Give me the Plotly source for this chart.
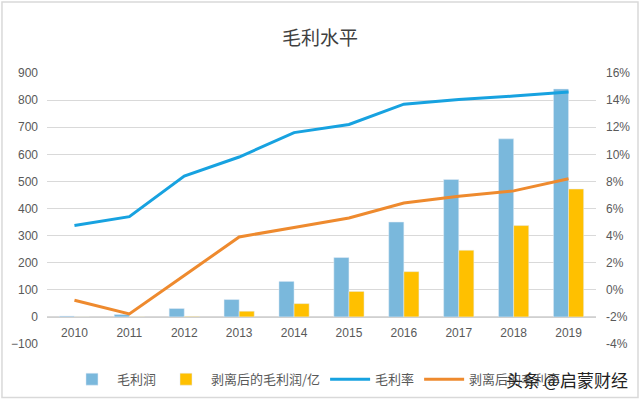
import plotly.graph_objects as go

years = ["2010", "2011", "2012", "2013", "2014", "2015", "2016", "2017", "2018", "2019"]
gross_profit = [3, 9, 31, 64, 131, 219, 350, 507, 657, 841]
gross_profit_stripped = [0.5, 1, 2, 21, 49, 94, 167, 246, 337, 472]
gross_margin = [4.75, 5.4, 8.4, 9.8, 11.6, 12.2, 13.7, 14.05, 14.3, 14.6]
gross_margin_stripped = [-0.77, -1.78, 1.05, 3.9, 4.6, 5.3, 6.4, 6.9, 7.3, 8.2]

left_ticks = list(range(-100, 901, 100))
right_ticks = list(range(-4, 17, 2))
right_labels = [f"{v}%" for v in right_ticks]

grey = "#595959"
font_main = "Liberation Sans, Arial, sans-serif"

fig = go.Figure()
fig.add_trace(go.Bar(x=years, y=gross_profit, name="毛利润", marker_color="#7AB8DC"))
fig.add_trace(go.Bar(x=years, y=gross_profit_stripped, name="剥离后的毛利润/亿", marker_color="#FFC000"))
fig.add_trace(go.Scatter(x=years, y=gross_margin, name="毛利率", mode="lines",
                         line=dict(color="#17A2E0", width=3), yaxis="y2"))
fig.add_trace(go.Scatter(x=years, y=gross_margin_stripped, name="剥离后的毛利率", mode="lines",
                         line=dict(color="#EE8A2E", width=3), yaxis="y2"))

fig.update_layout(
    width=640, height=401,
    paper_bgcolor="white", plot_bgcolor="white",
    margin=dict(l=47, r=44, t=73, b=57, autoexpand=False),
    barmode="group", bargap=0.45, bargroupgap=0,
    title=dict(text="毛利水平", x=0.5, xanchor="center", y=0.905, yanchor="middle",
               font=dict(family="Noto Sans CJK SC", size=19, color="#404040")),
    font=dict(family=font_main, size=12, color=grey),
    xaxis=dict(type="category", anchor="free", position=0.1, showgrid=False,
               showline=True, linecolor="#D0D0D0", linewidth=1, ticks="",
               ticklabelstandoff=5,
               tickfont=dict(family=font_main, size=12, color=grey)),
    yaxis=dict(range=[-100, 900], tickvals=left_ticks, showgrid=True, gridcolor="#D9D9D9",
               gridwidth=1, zeroline=False, ticks="", ticklabelstandoff=8,
               tickfont=dict(family=font_main, size=12, color=grey)),
    yaxis2=dict(range=[-4, 16], overlaying="y", side="right", tickvals=right_ticks,
                ticktext=right_labels, showgrid=False, zeroline=False, ticks="",
                ticklabelstandoff=9, tickfont=dict(family=font_main, size=12, color=grey)),
    legend=dict(orientation="h", x=0.0364, xanchor="left", y=-0.13, yanchor="middle",
                font=dict(family="Noto Sans CJK SC", size=13, color=grey),
                itemwidth=40, traceorder="normal", tracegroupgap=0),
    showlegend=True,
)

fig.add_annotation(text="头条 @启蒙财经", xref="paper", yref="paper", x=1.062, y=-0.13,
                   xanchor="right", yanchor="middle", showarrow=False,
                   font=dict(family="Noto Sans CJK SC", size=17, color="#222222"))

fig.add_shape(type="rect", xref="paper", yref="paper", x0=-0.082, x1=1.0765, y0=-0.197, y1=1.2616,
              line=dict(color="#D9D9D9", width=1.5), fillcolor="rgba(0,0,0,0)")

fig.write_html("out.html", config={"displayModeBar": False},
               post_script="document.body.style.margin='0';document.body.style.padding='0';")
